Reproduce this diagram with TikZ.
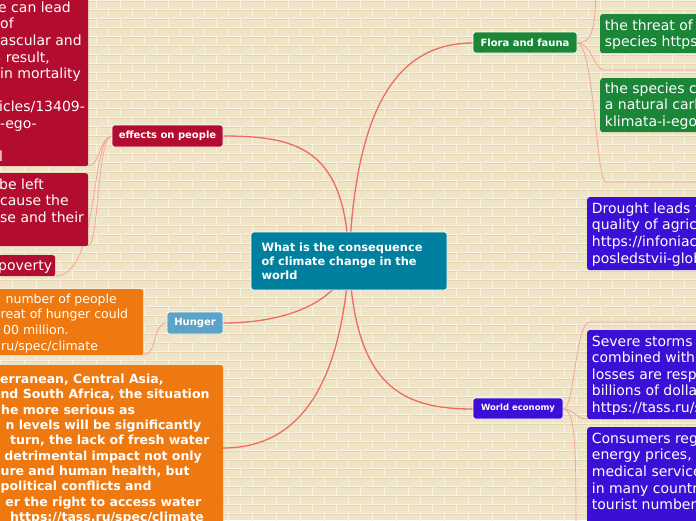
\documentclass[tikz,border=0pt]{standalone}
\usepackage{fontspec}
\setmainfont{DejaVu Sans}
\definecolor{bgbase}{RGB}{240,228,199}
\definecolor{mortarhi}{RGB}{249,242,224}
\definecolor{mortarlo}{RGB}{226,212,178}
\definecolor{teal}{RGB}{0,128,158}
\definecolor{crimson}{RGB}{178,12,46}
\definecolor{orng}{RGB}{237,121,16}
\definecolor{skyb}{RGB}{91,164,200}
\definecolor{grn}{RGB}{27,134,55}
\definecolor{violet}{RGB}{60,15,215}
\definecolor{mainline}{RGB}{238,106,102}
\definecolor{subline}{RGB}{243,165,154}
\tikzset{
  topic/.style={draw=white, line width=0.8pt, rounded corners=2.5pt, text=white,
    font=\bfseries\fontsize{10}{12}\selectfont, inner sep=0pt},
  leafbox/.style={rounded corners=2.5pt, inner sep=0pt, anchor=north west},
  leaftext/.style={text=white, inner sep=0pt, anchor=base west,
    font=\fontsize{14}{16.6}\selectfont},
  smalltext/.style={text=white, inner sep=0pt, anchor=base west,
    font=\fontsize{12.5}{15.6}\selectfont},
  boldtext/.style={text=white, inner sep=0pt, anchor=base west,
    font=\bfseries\fontsize{12.5}{15.35}\selectfont},
  mainconn/.style={draw=mainline, line width=1.3pt},
  subconn/.style={draw=subline, line width=0.8pt}
}
\begin{document}
\begin{tikzpicture}[x=1pt,y=-1pt]
\useasboundingbox (0,0) rectangle (696,520);
\clip (0,0) rectangle (696,520);
% background bricks
\fill[bgbase] (0,0) rectangle (696,520);
\foreach \r in {0,...,58}{
  \draw[mortarhi, line width=1pt] (0,{\r*9}) -- (696,{\r*9});
  \draw[mortarlo, line width=0.5pt] (0,{\r*9+1}) -- (696,{\r*9+1});
}
\foreach \r in {0,...,57}{
  \foreach \c in {0,...,29}{
    \draw[mortarhi, line width=1pt] ({\c*24+mod(\r,2)*12},{\r*9}) -- ++(0,9);
  }
}
% coordinates for free ends
\coordinate (ctr) at (349,261);
\coordinate (ftop) at (596,-10);
\coordinate (fu1a) at (604,70);
\coordinate (fu1b) at (700,70);
\coordinate (fu2a) at (606,182);
\coordinate (fu2b) at (700,182);
\coordinate (wu1a) at (590,322);
\coordinate (wu1b) at (700,322);
\coordinate (wdown) at (576,540);

% main connectors
\draw[mainconn] (ctr) .. controls (346,150) and (300,136) .. (223,136);
\draw[mainconn] (ctr) .. controls (355,120) and (390,43) .. (473,43);
\draw[mainconn] (ctr) .. controls (340,300) and (290,323) .. (223,323);
\draw[mainconn] (ctr) .. controls (340,400) and (290,448) .. (223,448);
\draw[mainconn] (ctr) .. controls (355,385) and (400,409) .. (473,409);

% sub connectors
\draw[subconn] (112,136) .. controls (100,136) and (100,166) .. (88,166);
\draw[subconn] (112,136) .. controls (97,136) and (99,246) .. (88,246);
\draw[subconn] (112,136) .. controls (90,136) and (100,276) .. (55,276);
\draw[subconn] (167,323) .. controls (152,323) and (158,355) .. (143,355);
\draw[subconn] (577,43) .. controls (592,43) and (595,30) .. (ftop);
\draw[subconn] (577,43) .. controls (592,43) and (594,70) .. (fu1a) -- (fu1b);
\draw[subconn] (577,43) .. controls (594,43) and (596,182) .. (fu2a) -- (fu2b);
\draw[subconn] (563,409) .. controls (575,409) and (575,322) .. (wu1a) -- (wu1b);
\draw[subconn] (563,409) .. controls (575,409) and (575,419) .. (587,419);
\draw[subconn] (563,409) .. controls (576,409) and (576,450) .. (wdown);

% central node
\node[draw=white, line width=0.8pt, rounded corners=2.5pt, fill=teal, text=white,
  font=\bfseries\fontsize{11.4}{14.2}\selectfont, align=left, text width=175pt,
  inner xsep=10.5pt, inner ysep=0pt, minimum width=196pt, minimum height=58pt]
  (central) at (349,261) {What is the consequence\\of climate change in the\\world};

% topic nodes
\node[topic, fill=crimson, minimum width=111pt, minimum height=22pt] (effects) at (167.5,136) {effects on people};
\node[topic, fill=skyb, minimum width=56pt, minimum height=22pt] (hunger) at (195,323) {Hunger};
\node[topic, fill=grn, minimum width=104pt, minimum height=21pt] (flora) at (525,42.5) {Flora and fauna};
\node[topic, fill=violet, minimum width=90pt, minimum height=21pt,
  font=\bfseries\fontsize{8.5}{10}\selectfont] (world) at (518,408.5) {World economy};

% left leaf boxes
\node[leafbox, fill=crimson, minimum width=250pt, minimum height=190pt] (r1) at (-162,-24) {};
\node[leafbox, fill=crimson, minimum width=250pt, minimum height=73pt] (r2) at (-162,173) {};
\node[leafbox, fill=crimson, minimum width=200pt, minimum height=21pt] (r3) at (-145,255) {};
\node[leafbox, fill=orng, minimum width=300pt, minimum height=66pt] (o1) at (-157,289) {};
\node[leafbox, fill=orng, minimum width=400pt, minimum height=200pt] (o2) at (-177,365) {};

\node[leaftext] (r1t) at (0,12.3) {\parbox[t]{300pt}{%
\hspace*{-2pt}e can lead\\
\hspace*{0pt}of\\
\hspace*{0pt}ascular and\\
\hspace*{-7.4pt}a result,\\
\hspace*{0pt}in mortality\\
\mbox{}\\
\hspace*{-1pt}icles/13409-\\
\hspace*{0pt}-ego-\\
\mbox{}\\
\hspace*{-1pt}l}};
\node[leaftext] (r2t) at (0,189.3) {\parbox[t]{300pt}{%
\hspace*{-1pt}be left\\
\hspace*{0pt}cause the\\
\hspace*{0pt}se and their}};
\node[leaftext] (r3t) at (-2,270) {poverty};
\node[smalltext] (o1t) at (0,303.3) {\parbox[t]{300pt}{%
\hspace*{5.5pt}number of people\\
\hspace*{0.5pt}reat of hunger could\\
\hspace*{3pt}00 million.\\
\hspace*{1pt}ru/spec/climate}};
\node[boldtext] (o2t) at (0,383.3) {\parbox[t]{300pt}{%
\hspace*{0pt}erranean, Central Asia,\\
\hspace*{0.4pt}nd South Africa, the situation\\
\hspace*{1pt}he more serious as\\
\hspace*{5.5pt}n levels will be significantly\\
\hspace*{10pt}turn, the lack of fresh water\\
\hspace*{4.2pt}detrimental impact not only\\
\hspace*{0.4pt}ure and human health, but\\
\hspace*{0.5pt}political conflicts and\\
\hspace*{5.2pt}er the right to access water\\
\hspace*{10pt}https://tass.ru/spec/climate}};

% right leaf boxes
\node[leafbox, fill=grn, minimum width=150pt, minimum height=39pt] (g1) at (600,14) {};
\node[leafbox, fill=grn, minimum width=150pt, minimum height=54pt] (g2) at (600,78) {};
\node[leafbox, fill=violet, minimum width=150pt, minimum height=73pt] (v1) at (587,197) {};
\node[leafbox, fill=violet, minimum width=150pt, minimum height=89pt] (v2) at (587,330) {};
\node[leafbox, fill=violet, minimum width=150pt, minimum height=150pt] (v3) at (587,427) {};

\node[leaftext] (g1t) at (604.7,30) {\parbox[t]{300pt}{the threat of extinction\\species https://tass.ru}};
\node[leaftext] (g2t) at (604.7,93.3) {\parbox[t]{300pt}{the species composition\\a natural carbon sink\\klimata-i-ego-posledstviya}};
\node[leaftext] (v1t) at (591.7,213.3) {\parbox[t]{300pt}{Drought leads to a decrease\\quality of agricultural\\https://infoniac.ru/news\\posledstvii-globalnogo}};
\node[leaftext] (v2t) at (591.7,346) {\parbox[t]{300pt}{Severe storms and floods\\combined with agricultural\\losses are responsible\\billions of dollars\\https://tass.ru/spec}};
\node[leaftext] (v3t) at (591.7,443.3) {\parbox[t]{300pt}{Consumers regularly\\energy prices, insurance\\medical services\\in many countries\\tourist numbers}};
\end{tikzpicture}
\end{document}
